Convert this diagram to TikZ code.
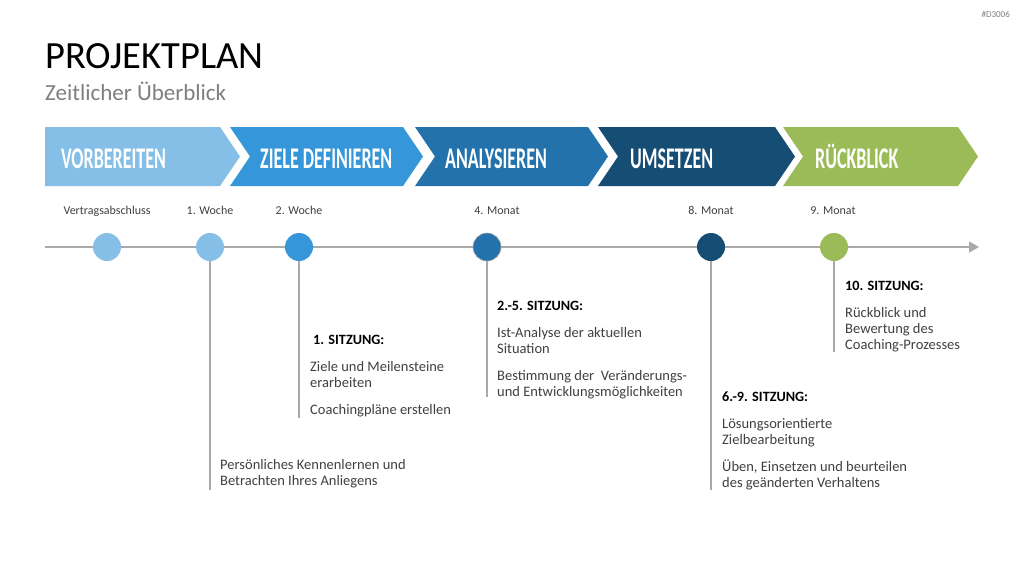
\documentclass[tikz,border=0pt]{standalone}
\usepackage{fontspec}
\setmainfont{Carlito}
\newfontfamily\chevfont[FakeStretch=0.6]{Carlito}
\usetikzlibrary{arrows.meta}
\definecolor{cA}{HTML}{85BFE8}
\definecolor{cB}{HTML}{3597DA}
\definecolor{cC}{HTML}{2372AC}
\definecolor{cD}{HTML}{164D75}
\definecolor{cE}{HTML}{9BBB59}
\definecolor{tlgray}{HTML}{A9A9A9}
\definecolor{bodytxt}{HTML}{404040}
\definecolor{subgray}{HTML}{7F7F7F}
\tikzset{
  chevtext/.style={anchor=base west, inner sep=0pt, text=white, font=\chevfont\bfseries\fontsize{30}{32}\selectfont},
  datelbl/.style={anchor=base, inner sep=0pt, text=bodytxt, font=\fontsize{12}{14}\selectfont},
  body/.style={anchor=base west, inner sep=0pt, text=bodytxt, font=\fontsize{14.5}{16}\selectfont},
  head/.style={anchor=base west, inner sep=0pt, text=black, font=\bfseries\fontsize{14.2}{16}\selectfont},
  dot/.style={circle, minimum size=28pt, inner sep=0pt},
  vline/.style={draw=tlgray, line width=1.2pt},
  tline/.style={draw=tlgray, line width=1.5pt, -{Triangle[length=10pt,width=11pt]}},
}
\begin{document}
\begin{tikzpicture}[x=1pt,y=-1pt]
\useasboundingbox (0,0) rectangle (1024,576);
\fill[white] (0,0) rectangle (1024,576);

% header
\node[anchor=base east, inner sep=0pt, text=subgray, font=\fontsize{9}{10}\selectfont] (code) at (1010,17) {\#D3006};
\node[anchor=base west, inner sep=0pt, text=black, font=\fontsize{38.5}{40}\selectfont] (title) at (45,68) {PROJEKTPLAN};
\node[anchor=base west, inner sep=0pt, text=subgray, font=\fontsize{23}{25}\selectfont] (subtitle) at (45,100) {Zeitlicher Überblick};

% chevrons
\fill[cA] (45,127) -- (220,127) -- (240,156.5) -- (220,186) -- (45,186) -- cycle;
\fill[cB] (230,127) -- (403,127) -- (423,156.5) -- (403,186) -- (230,186) -- (250,156.5) -- cycle;
\fill[cC] (415,127) -- (588,127) -- (608,156.5) -- (588,186) -- (415,186) -- (435,156.5) -- cycle;
\fill[cD] (598,127) -- (775,127) -- (795,156.5) -- (775,186) -- (598,186) -- (618,156.5) -- cycle;
\fill[cE] (783,127) -- (958,127) -- (978,156.5) -- (958,186) -- (783,186) -- (803,156.5) -- cycle;
\node[chevtext] (p1) at (61,168) {VORBEREITEN};
\node[chevtext] (p2) at (260,168) {ZIELE DEFINIEREN};
\node[chevtext] (p3) at (445,168) {ANALYSIEREN};
\node[chevtext] (p4) at (630,168) {UMSETZEN};
\node[chevtext] (p5) at (815,168) {RÜCKBLICK};

% date labels
\node[datelbl] (d1) at (107,214) {Vertragsabschluss};
\node[datelbl] (d2) at (210,214) {1. Woche};
\node[datelbl] (d3) at (299,214) {2. Woche};
\node[datelbl] (d4) at (497,214) {4. Monat};
\node[datelbl] (d5) at (711,214) {8. Monat};
\node[datelbl] (d6) at (833,214) {9. Monat};

% timeline
\coordinate (ts) at (45,247);
\coordinate (te) at (979,247);
\draw[tline] (ts) -- (te);

% end points of the drop lines
\coordinate (e2) at (210,490);
\coordinate (e3) at (299,418);
\coordinate (e4) at (487,397);
\coordinate (e5) at (711,490);
\coordinate (e6) at (834,352);

\node[dot, fill=cA] (c1) at (107,247) {};
\node[dot, fill=cA] (c2) at (210,247) {};
\node[dot, fill=cB] (c3) at (299,247) {};
\node[dot, fill=cC, draw=tlgray, line width=0.6pt] (c4) at (487,247) {};
\node[dot, fill=cD] (c5) at (711,247) {};
\node[dot, fill=cE] (c6) at (834,247) {};

\draw[vline] (c2.south) -- (e2);
\draw[vline] (c3.south) -- (e3);
\draw[vline] (c4.south) -- (e4);
\draw[vline] (c5.south) -- (e5);
\draw[vline] (c6.south) -- (e6);

% block 1. Woche
\node[body] (a1) at (220,469) {Persönliches Kennenlernen und};
\node[body] (a2) at (220,485) {Betrachten Ihres Anliegens};

% block 2. Woche
\node[head] (b0) at (313,344) {1. SITZUNG:};
\node[body] (b1) at (310,371) {Ziele und Meilensteine};
\node[body] (b2) at (310,387) {erarbeiten};
\node[body] (b3) at (310,414) {Coachingpläne erstellen};

% block 4. Monat
\node[head] (f0) at (497,310) {2.-5. SITZUNG:};
\node[body] (f1) at (497,337) {Ist-Analyse der aktuellen};
\node[body] (f2) at (497,353) {Situation};
\node[body] (f3) at (497,380) {Bestimmung der\ \ Veränderungs-};
\node[body] (f4) at (497,396) {und Entwicklungsmöglichkeiten};

% block 8. Monat
\node[head] (g0) at (722,401) {6.-9. SITZUNG:};
\node[body] (g1) at (722,428) {Lösungsorientierte};
\node[body] (g2) at (722,444) {Zielbearbeitung};
\node[body] (g3) at (722,471) {Üben, Einsetzen und beurteilen};
\node[body] (g4) at (722,487) {des geänderten Verhaltens};

% block 9. Monat
\node[head] (h0) at (845,290) {10. SITZUNG:};
\node[body] (h1) at (845,317) {Rückblick und};
\node[body] (h2) at (845,333) {Bewertung des};
\node[body] (h3) at (845,349) {Coaching-Prozesses};
\end{tikzpicture}
\end{document}
